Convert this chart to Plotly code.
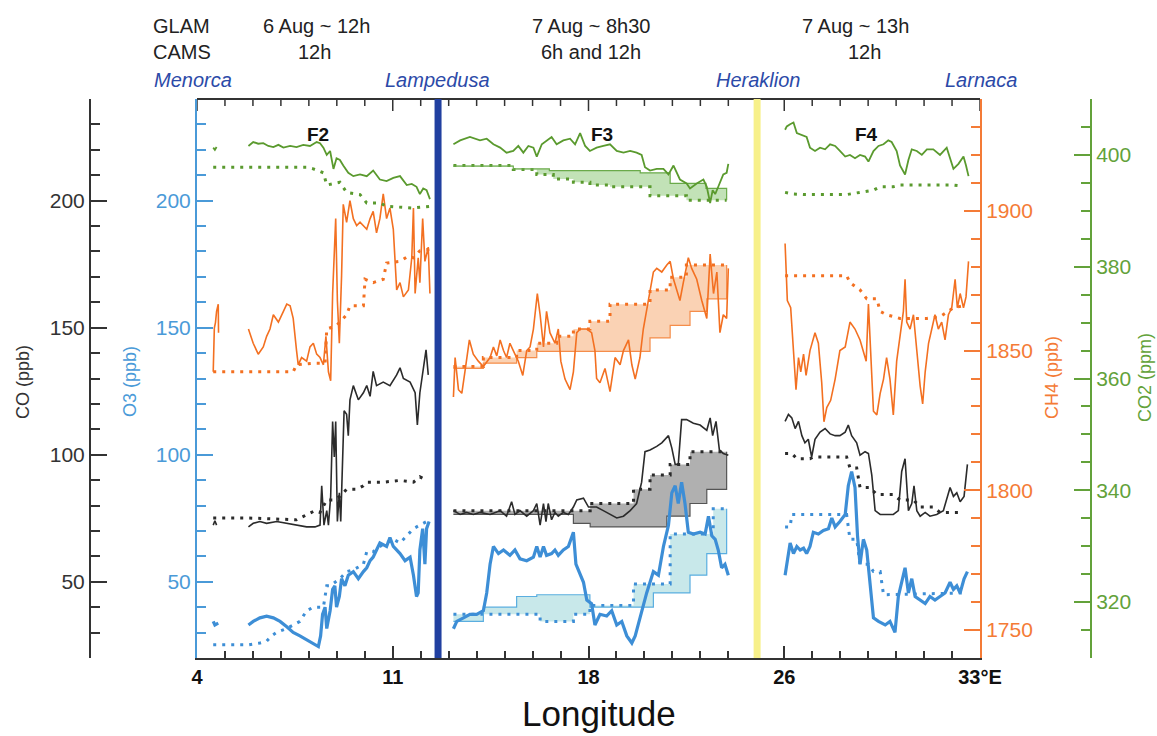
import plotly.graph_objects as go

# ---------------- canvas / layout helpers ----------------
W, H = 1157, 736
ML, MR, MT, MB = 60, 40, 99, 78
PW = W - ML - MR
PH = H - MT - MB


def pxx(px):
    return (px - ML) / PW


def pxy(py):
    return (H - MB - py) / PH


def join(*parts):
    xs, ys = [], []
    for i, (x, y) in enumerate(parts):
        if i:
            xs.append(None)
            ys.append(None)
        xs += list(x)
        ys += list(y)
    return xs, ys


# ---------------- axis / label values ----------------
x_range = [4, 32]
x_tickvals = [4, 11, 18, 25, 32]
x_ticktext = ["4", "11", "18", "26", "33°E"]
x_minor_step = 1
o3_ticks = [50, 100, 150, 200]
co_ticks = [50, 100, 150, 200]
ch4_ticks = [1750, 1800, 1850, 1900]
co2_ticks = [320, 340, 360, 380, 400]
lampedusa_lon = 12.62
heraklion_lon = 24.03
flight_names = ["F2", "F3", "F4"]
flight_label_x = [8.33, 18.48, 27.93]

# ---------------- F2 ----------------
f2_co2_x0 = [4.58, 4.64, 4.70]
f2_co2_y0 = [401.3, 400.9, 401.4]
f2_co2_x = [5.84, 6.01, 6.19, 6.37, 6.55, 6.73, 6.91, 7.09, 7.33, 7.56, 7.80, 8.04, 8.28, 8.40, 8.52, 8.64,
            8.76, 8.88, 8.99, 9.11, 9.23, 9.41, 9.59, 9.83, 10.07, 10.30, 10.54, 10.78, 11.02, 11.26, 11.50,
            11.68, 11.85, 11.97, 12.09, 12.21, 12.33]
f2_co2 = [401.6, 402.3, 402.0, 402.1, 401.6, 401.4, 401.8, 401.3, 401.6, 401.4, 401.8, 401.6, 402.3, 402.1,
          401.3, 400.0, 400.7, 397.5, 399.4, 399.1, 398.1, 396.8, 396.2, 396.5, 396.2, 397.2, 395.6, 395.3,
          395.9, 396.2, 394.6, 394.8, 394.3, 393.0, 394.0, 393.7, 392.1]
f2_co2_cams_x = [4.58, 7.92, 8.16, 8.52, 8.64, 9.11, 9.35, 9.83, 10.07, 10.54, 10.78, 11.73, 12.33]
f2_co2_cams = [397.8, 397.8, 397.5, 396.8, 394.6, 395.1, 393.3, 392.9, 391.4, 391.4, 390.8, 390.5, 390.8]

f2_ch4_x0 = [4.58, 4.62, 4.66, 4.70, 4.76, 4.77]
f2_ch4_y0 = [1842.4, 1858.0, 1860.0, 1864.0, 1866.6, 1856.4]
f2_ch4_x = [5.84, 6.01, 6.19, 6.37, 6.49, 6.61, 6.73, 6.91, 7.09, 7.21, 7.33, 7.44, 7.56, 7.62, 7.74, 7.92,
            8.04, 8.16, 8.28, 8.40, 8.52, 8.61, 8.70, 8.78, 8.85, 8.91, 8.96, 9.02, 9.09, 9.17, 9.23, 9.35,
            9.47, 9.59, 9.71, 9.83, 10.07, 10.19, 10.30, 10.42, 10.54, 10.66, 10.78, 10.90, 11.02, 11.14,
            11.26, 11.38, 11.56, 11.68, 11.74, 11.80, 11.91, 11.97, 12.07, 12.15, 12.27, 12.33]
f2_ch4 = [1857.7, 1852.6, 1848.7, 1851.3, 1855.1, 1857.7, 1862.8, 1860.2, 1864.0, 1866.6, 1866.0, 1861.5,
          1850.0, 1844.9, 1847.5, 1846.2, 1851.3, 1852.6, 1848.7, 1847.5, 1844.9, 1855.1, 1842.4, 1839.2,
          1870.4, 1884.5, 1897.2, 1867.9, 1852.6, 1876.8, 1902.3, 1895.9, 1903.6, 1897.2, 1894.7, 1895.9,
          1893.4, 1897.2, 1899.8, 1892.1, 1897.2, 1906.1, 1897.2, 1901.0, 1893.4, 1871.7, 1874.3, 1869.2,
          1871.7, 1883.2, 1901.0, 1870.4, 1883.2, 1874.3, 1897.2, 1881.9, 1887.0, 1870.4]
f2_ch4_cams_x = [4.58, 7.44, 7.56, 8.16, 8.58, 8.64, 8.99, 9.35, 9.47, 9.95, 10.01, 10.30, 10.66, 10.78,
                 11.26, 11.56, 11.74, 11.97, 12.33]
f2_ch4_cams = [1842.4, 1842.4, 1844.9, 1845.5, 1845.5, 1857.7, 1858.9, 1862.8, 1866.0, 1866.0, 1875.5,
               1874.3, 1875.5, 1881.3, 1881.9, 1883.8, 1883.2, 1885.7, 1886.3]

f2_co_x0 = [4.58, 4.64, 4.70]
f2_co_y0 = [72.3, 74.0, 72.3]
f2_co_x = [5.84, 6.01, 6.25, 6.49, 6.85, 7.21, 7.56, 7.92, 8.22, 8.40, 8.46, 8.54, 8.64, 8.70, 8.78, 8.85,
           8.91, 8.96, 9.02, 9.09, 9.14, 9.20, 9.26, 9.35, 9.41, 9.47, 9.59, 9.77, 9.95, 10.07, 10.19,
           10.30, 10.42, 10.66, 10.90, 11.14, 11.26, 11.38, 11.62, 11.80, 11.88, 11.97, 12.09, 12.19, 12.27]
f2_co = [71.6, 73.0, 73.7, 73.0, 73.7, 73.0, 72.3, 71.6, 71.6, 72.3, 87.8, 72.3, 78.0, 72.3, 83.6, 113.1,
         99.1, 113.1, 73.7, 85.0, 73.7, 99.1, 117.3, 115.9, 107.5, 121.6, 127.2, 121.6, 124.4, 127.2, 123.0,
         132.8, 127.2, 128.6, 127.2, 131.4, 134.2, 130.0, 128.6, 124.4, 111.7, 124.4, 132.8, 141.3, 131.4]
f2_co_cams_x = [4.58, 5.84, 7.56, 7.92, 8.22, 8.40, 8.64, 8.88, 9.11, 9.35, 9.71, 9.95, 10.07, 10.66, 11.26,
                11.74, 11.97, 12.21]
f2_co_cams = [75.1, 75.1, 74.4, 76.5, 78.0, 77.3, 82.2, 82.2, 83.6, 86.4, 86.4, 87.8, 89.2, 89.2, 89.9,
              89.2, 91.3, 89.9]

f2_o3_x0 = [4.58, 4.64, 4.76]
f2_o3_y0 = [34.4, 33.0, 33.7]
f2_o3_x = [5.84, 6.01, 6.25, 6.49, 6.73, 6.97, 7.21, 7.44, 7.68, 7.92, 8.16, 8.34, 8.42, 8.49, 8.58, 8.64,
           8.76, 8.85, 8.93, 8.99, 9.09, 9.17, 9.29, 9.41, 9.59, 9.77, 9.95, 10.07, 10.19, 10.30, 10.42,
           10.54, 10.78, 10.90, 11.02, 11.14, 11.26, 11.44, 11.62, 11.74, 11.85, 11.91, 11.97, 12.07, 12.15,
           12.21, 12.30]
f2_o3 = [33.0, 34.4, 35.8, 36.5, 35.8, 34.4, 32.3, 30.1, 28.7, 27.3, 25.9, 24.5, 28.7, 37.2, 40.0, 31.6,
         38.6, 47.0, 48.4, 40.0, 44.2, 51.2, 48.4, 52.6, 54.0, 51.2, 54.0, 55.5, 58.3, 59.7, 62.5, 65.3,
         63.9, 67.4, 63.9, 62.5, 61.1, 58.3, 59.7, 52.6, 44.2, 45.6, 62.5, 70.9, 56.9, 70.9, 73.7]
f2_o3_cams_x = [4.58, 5.84, 6.25, 6.49, 6.67, 6.85, 7.21, 7.44, 7.68, 7.92, 8.16, 8.52, 8.64, 8.76, 9.11,
                9.35, 9.59, 9.95, 10.07, 10.30, 10.54, 10.78, 11.02, 11.26, 11.50, 11.74, 11.97, 12.21]
f2_o3_cams = [25.2, 25.2, 25.9, 26.6, 28.7, 30.1, 31.6, 33.0, 34.4, 38.6, 40.0, 40.0, 48.4, 48.4, 51.2,
              54.0, 54.7, 56.9, 61.8, 61.8, 63.9, 65.3, 66.7, 65.3, 68.1, 70.9, 72.3, 73.7]

# ---------------- F3 ----------------
f3_co2_x = [13.17, 13.41, 13.76, 14.12, 14.36, 14.60, 14.84, 15.07, 15.31, 15.49, 15.67, 15.85, 16.03,
            16.15, 16.33, 16.50, 16.68, 16.86, 17.10, 17.34, 17.52, 17.70, 17.88, 18.05, 18.29, 18.53,
            18.77, 19.01, 19.25, 19.49, 19.72, 19.90, 20.02, 20.20, 20.44, 20.68, 20.86, 21.04, 21.16,
            21.27, 21.51, 21.63, 21.87, 22.11, 22.23, 22.35, 22.44, 22.53, 22.64, 22.82, 22.94, 23.00]
f3_co2 = [401.9, 402.6, 403.2, 402.6, 402.9, 401.9, 401.3, 400.4, 400.7, 401.6, 400.4, 401.6, 401.3,
          399.7, 401.9, 402.6, 403.2, 401.9, 402.6, 402.9, 401.9, 403.9, 401.6, 400.7, 401.3, 401.6,
          401.9, 400.7, 400.4, 400.7, 400.4, 400.0, 397.8, 397.2, 397.5, 397.5, 396.5, 398.1, 396.8,
          395.6, 394.9, 394.0, 394.9, 395.6, 394.3, 391.4, 393.7, 393.0, 394.3, 396.5, 396.8, 398.4]
f3_co2_6h_x = [13.17, 15.31, 16.15, 16.74, 17.46, 18.05, 18.77, 20.20, 21.50, 22.94]
f3_co2_6h = [398.1, 397.4, 396.5, 395.7, 395.1, 394.6, 394.3, 392.7, 391.9, 391.9]
f3_co2_12h_x = [13.17, 15.31, 16.60, 19.85, 20.92, 22.20, 22.94, 22.94]
f3_co2_12h = [398.0, 397.5, 397.2, 396.8, 394.9, 394.0, 394.0, 391.9]

f3_ch4_x = [13.17, 13.23, 13.35, 13.47, 13.58, 13.74, 13.88, 14.06, 14.24, 14.48, 14.60, 14.72, 14.84,
            14.96, 15.07, 15.19, 15.31, 15.49, 15.65, 15.79, 15.91, 16.03, 16.17, 16.27, 16.39, 16.50,
            16.62, 16.80, 16.92, 17.01, 17.16, 17.34, 17.46, 17.58, 17.70, 17.94, 18.11, 18.23, 18.29,
            18.41, 18.59, 18.77, 18.95, 19.13, 19.25, 19.43, 19.55, 19.67, 19.84, 19.96, 20.14, 20.32,
            20.44, 20.62, 20.80, 20.92, 21.04, 21.27, 21.39, 21.57, 21.69, 21.87, 22.05, 22.23, 22.35,
            22.47, 22.59, 22.70, 22.82, 22.94, 23.00]
f3_ch4 = [1833.4, 1847.5, 1836.0, 1834.7, 1842.4, 1853.8, 1848.7, 1846.2, 1844.3, 1847.5, 1851.3, 1848.1,
          1853.8, 1850.0, 1847.5, 1852.6, 1850.0, 1846.2, 1841.1, 1850.0, 1851.3, 1857.7, 1870.4, 1862.8,
          1851.3, 1864.0, 1856.4, 1852.6, 1857.7, 1846.2, 1839.8, 1836.0, 1842.4, 1856.4, 1857.7, 1857.7,
          1856.4, 1850.0, 1840.0, 1838.5, 1843.6, 1835.3, 1847.5, 1844.9, 1850.0, 1853.8, 1844.9, 1839.8,
          1847.5, 1857.7, 1867.9, 1878.1, 1879.4, 1878.1, 1880.6, 1881.9, 1875.5, 1867.9, 1874.3, 1883.2,
          1879.4, 1875.5, 1867.9, 1861.5, 1884.5, 1870.4, 1878.1, 1856.4, 1862.8, 1861.5, 1879.4]
f3_ch4_6h_x = [13.17, 14.24, 15.43, 16.15, 16.86, 17.46, 18.05, 18.77, 20.20, 20.92, 21.50, 22.94]
f3_ch4_6h = [1844.3, 1847.5, 1850.0, 1852.6, 1855.1, 1857.7, 1860.5, 1866.6, 1871.7, 1876.2, 1880.6, 1880.6]
f3_ch4_12h_x = [13.17, 14.24, 15.43, 16.15, 20.20, 20.92, 21.63, 22.23, 22.94, 22.94]
f3_ch4_12h = [1843.6, 1845.5, 1847.5, 1849.7, 1854.5, 1859.0, 1864.0, 1868.5, 1868.5, 1880.6]

f3_co_x = [13.17, 13.41, 13.64, 13.88, 14.12, 14.48, 14.84, 15.07, 15.25, 15.37, 15.55, 15.79, 16.03,
           16.15, 16.27, 16.39, 16.48, 16.56, 16.68, 16.80, 16.92, 17.10, 17.28, 17.46, 17.58, 17.82,
           18.00, 18.29, 18.53, 18.77, 19.01, 19.25, 19.49, 19.72, 19.90, 20.02, 20.20, 20.44, 20.62,
           20.86, 20.98, 21.10, 21.21, 21.33, 21.51, 21.75, 21.99, 22.23, 22.35, 22.44, 22.56, 22.68,
           22.82, 23.00]
f3_co = [78.0, 76.5, 77.3, 76.5, 77.3, 76.5, 78.0, 75.8, 81.5, 76.5, 78.0, 75.8, 78.0, 80.8, 72.3, 80.8,
         73.7, 80.8, 74.4, 77.3, 75.8, 77.3, 76.5, 79.4, 82.2, 82.9, 79.4, 79.4, 78.0, 76.5, 75.1, 75.8,
         78.0, 80.8, 89.2, 101.2, 101.9, 103.3, 104.7, 107.5, 102.6, 96.2, 96.2, 113.8, 113.8, 112.4, 111.7,
         109.6, 114.5, 107.5, 113.1, 101.9, 100.5, 99.8]
f3_co_6h_x = [13.17, 18.06, 19.61, 20.20, 20.92, 21.63, 22.94]
f3_co_6h = [78.0, 80.8, 86.4, 92.0, 96.2, 101.2, 101.2]
f3_co_12h_x = [13.17, 17.46, 18.06, 20.80, 21.63, 22.23, 22.94, 22.94]
f3_co_12h = [76.5, 73.0, 71.6, 75.8, 80.8, 86.4, 86.4, 101.2]

f3_o3_x = [13.17, 13.29, 13.53, 13.76, 14.00, 14.24, 14.36, 14.48, 14.60, 14.78, 14.96, 15.19, 15.37,
           15.55, 15.79, 16.03, 16.15, 16.27, 16.39, 16.50, 16.68, 16.80, 16.92, 17.10, 17.28, 17.46,
           17.55, 17.70, 17.82, 17.94, 18.11, 18.23, 18.41, 18.65, 18.83, 19.01, 19.19, 19.37, 19.55,
           19.67, 19.84, 20.08, 20.32, 20.50, 20.68, 20.86, 20.98, 21.10, 21.21, 21.33, 21.45, 21.57,
           21.75, 21.99, 22.17, 22.29, 22.41, 22.53, 22.64, 22.76, 22.88, 23.00]
f3_o3 = [31.5, 34.4, 35.8, 37.2, 37.2, 38.6, 45.6, 56.9, 63.9, 61.1, 62.5, 60.4, 62.5, 59.0, 58.3, 59.7,
         63.9, 59.7, 63.9, 60.4, 61.1, 62.5, 60.4, 62.5, 63.9, 69.5, 56.9, 52.6, 49.8, 42.8, 41.4, 33.0,
         37.2, 36.5, 38.6, 33.0, 34.4, 28.7, 25.9, 28.7, 35.8, 45.6, 54.0, 52.6, 63.9, 72.3, 85.0, 87.8,
         80.8, 89.2, 80.8, 69.5, 68.8, 69.5, 68.8, 75.8, 68.1, 66.7, 62.5, 55.5, 56.9, 52.6]
f3_o3_6h_x = [13.17, 16.27, 17.46, 18.05, 19.61, 20.92, 22.46, 22.94]
f3_o3_6h = [37.2, 34.4, 37.2, 40.7, 49.1, 68.8, 78.7, 78.7]
f3_o3_12h_x = [13.17, 14.24, 15.43, 16.15, 18.05, 20.32, 21.63, 22.23, 22.94, 22.94]
f3_o3_12h = [34.4, 40.0, 44.2, 44.9, 40.0, 45.6, 52.6, 61.1, 61.1, 78.7]

# ---------------- F4 ----------------
f4_co2_x = [25.03, 25.09, 25.21, 25.33, 25.45, 25.63, 25.80, 25.92, 26.10, 26.28, 26.46, 26.64, 26.82,
            26.99, 27.18, 27.35, 27.53, 27.71, 27.89, 28.01, 28.19, 28.37, 28.55, 28.72, 28.84, 29.02,
            29.14, 29.32, 29.44, 29.56, 29.74, 29.92, 30.10, 30.33, 30.57, 30.81, 30.93, 31.05, 31.23,
            31.41, 31.50, 31.59]
f4_co2 = [404.5, 405.1, 405.5, 405.8, 403.9, 403.5, 403.2, 401.3, 400.7, 401.3, 401.0, 401.9, 401.6,
          400.7, 399.7, 400.0, 399.4, 400.0, 399.7, 398.8, 400.7, 401.6, 401.9, 402.6, 402.3, 400.7,
          398.1, 396.5, 399.1, 401.0, 400.7, 400.0, 401.0, 401.0, 400.0, 401.3, 399.4, 397.5, 398.4,
          399.7, 398.1, 396.2]
f4_co2_cams_x = [25.03, 25.33, 25.69, 27.23, 27.71, 28.19, 28.43, 28.90, 29.14, 31.05, 31.41]
f4_co2_cams = [393.3, 393.0, 392.9, 392.9, 393.3, 393.7, 394.3, 394.3, 394.6, 394.6, 394.4]

f4_ch4_x = [25.03, 25.11, 25.23, 25.33, 25.42, 25.51, 25.59, 25.69, 25.78, 25.92, 26.10, 26.22, 26.34,
            26.42, 26.52, 26.66, 26.82, 26.99, 27.18, 27.35, 27.53, 27.71, 27.83, 27.93, 28.01, 28.09,
            28.19, 28.31, 28.43, 28.55, 28.66, 28.78, 28.90, 29.02, 29.14, 29.26, 29.32, 29.38, 29.50,
            29.62, 29.74, 29.86, 29.95, 30.04, 30.16, 30.27, 30.39, 30.51, 30.63, 30.75, 30.87, 30.99,
            31.11, 31.19, 31.29, 31.41, 31.50, 31.59]
f4_ch4 = [1888.3, 1867.9, 1865.3, 1850.0, 1836.0, 1847.5, 1842.4, 1848.7, 1841.1, 1850.0, 1856.4, 1852.6,
          1838.5, 1824.5, 1829.6, 1832.2, 1839.8, 1850.0, 1851.3, 1860.2, 1857.7, 1853.8, 1850.0, 1846.2,
          1866.6, 1850.0, 1828.3, 1827.0, 1834.7, 1839.8, 1847.5, 1839.8, 1827.0, 1846.2, 1855.1, 1864.0,
          1875.5, 1860.2, 1857.7, 1862.8, 1850.0, 1837.3, 1830.9, 1842.4, 1852.6, 1857.7, 1862.8, 1857.7,
          1860.2, 1853.8, 1862.8, 1865.3, 1875.5, 1865.3, 1870.4, 1865.3, 1869.2, 1881.9]
f4_ch4_cams_x = [25.03, 27.23, 27.35, 27.71, 27.95, 28.31, 28.43, 28.66, 29.14, 30.10, 30.57, 31.05, 31.41]
f4_ch4_cams = [1876.8, 1876.8, 1874.3, 1871.7, 1868.5, 1868.5, 1864.0, 1862.8, 1861.5, 1861.5, 1862.1,
               1865.3, 1866.0]

f4_co_x = [25.03, 25.15, 25.27, 25.39, 25.51, 25.63, 25.74, 25.86, 25.98, 26.10, 26.28, 26.46, 26.64,
           26.82, 26.99, 27.18, 27.29, 27.41, 27.59, 27.71, 27.89, 28.01, 28.13, 28.25, 28.43, 28.66,
           28.90, 29.08, 29.20, 29.32, 29.44, 29.56, 29.64, 29.74, 29.86, 30.04, 30.21, 30.45, 30.69,
           30.93, 31.05, 31.17, 31.29, 31.43, 31.55]
f4_co = [113.1, 115.9, 114.5, 110.3, 113.1, 107.5, 104.7, 106.1, 99.1, 106.1, 108.9, 110.3, 108.2, 107.5,
         107.5, 108.9, 111.7, 107.5, 104.7, 99.8, 101.2, 100.5, 92.0, 78.0, 76.5, 76.5, 76.5, 78.0, 93.4,
         98.4, 78.0, 80.8, 87.8, 78.0, 75.8, 77.3, 75.8, 76.5, 78.0, 87.1, 83.6, 85.0, 81.5, 83.6, 96.2]
f4_co_cams_x = [25.03, 25.27, 25.45, 25.92, 26.04, 27.23, 27.35, 27.59, 27.71, 28.07, 28.31, 28.90, 29.14,
                29.62, 29.86, 30.33, 30.57, 31.41]
f4_co_cams = [100.5, 100.5, 98.4, 98.4, 99.1, 99.1, 94.8, 94.8, 87.1, 87.1, 84.3, 84.3, 82.2, 82.2, 79.4,
              79.4, 77.3, 77.3]

f4_o3_x = [25.03, 25.11, 25.21, 25.33, 25.45, 25.57, 25.69, 25.80, 25.92, 26.04, 26.22, 26.40, 26.58,
           26.70, 26.82, 26.99, 27.18, 27.29, 27.41, 27.53, 27.62, 27.71, 27.83, 27.95, 28.07, 28.19,
           28.37, 28.61, 28.78, 28.96, 29.08, 29.20, 29.32, 29.44, 29.56, 29.68, 29.86, 30.04, 30.21,
           30.39, 30.57, 30.75, 30.93, 31.05, 31.17, 31.29, 31.43, 31.55]
f4_o3 = [52.6, 58.3, 65.3, 61.1, 63.9, 62.5, 63.2, 61.1, 63.9, 69.5, 68.8, 70.2, 70.9, 75.1, 71.6, 73.7,
         76.5, 87.8, 93.4, 87.1, 68.1, 56.9, 66.7, 62.5, 48.4, 35.8, 34.4, 33.0, 34.4, 30.1, 44.2, 49.8,
         55.5, 45.6, 51.2, 44.2, 42.8, 41.4, 44.2, 42.8, 44.2, 45.6, 49.8, 47.0, 48.4, 45.6, 51.2, 54.0]
f4_o3_cams_x = [25.03, 25.21, 25.27, 27.23, 27.35, 27.59, 27.71, 28.01, 28.19, 28.43, 28.55, 31.41]
f4_o3_cams = [71.6, 71.6, 76.5, 76.5, 66.7, 66.7, 56.9, 56.9, 54.0, 54.0, 44.9, 45.6]

# ---------------- styles ----------------
C_CO2, C_CH4, C_CO, C_O3 = "#5a9a2e", "#f37021", "#2b2b2b", "#3d8ed6"
AX_CO2, AX_CH4, AX_CO, AX_O3 = "#63a23a", "#f47b36", "#333333", "#4a9ad8"
FILL = {"co2": "rgba(120,190,95,0.45)", "ch4": "rgba(246,180,130,0.6)",
        "co": "rgba(150,150,150,0.75)", "o3": "rgba(170,220,222,0.65)"}
EDGE = {"co2": "#6aaa4a", "ch4": "#f58d4a", "co": "#555555", "o3": "#5aaee0"}
FONT = "Liberation Sans, Arial, sans-serif"
DOT = "3px,6px"
FRAME = "#333333"

fig = go.Figure()


def obs(xs, ys, color, axis, width=1.6):
    fig.add_trace(go.Scatter(x=xs, y=ys, mode="lines", yaxis=axis, showlegend=False, hoverinfo="skip",
                             line=dict(color=color, width=width)))


def cams(xs, ys, color, axis, shape="linear"):
    fig.add_trace(go.Scatter(x=xs, y=ys, mode="lines", yaxis=axis, showlegend=False, hoverinfo="skip",
                             line=dict(color=color, width=3, dash=DOT, shape=shape)))


def band(xa, ya, xb, yb, key, color, axis):
    cams(xa, ya, color, axis, shape="hv")
    fig.add_trace(go.Scatter(x=xb, y=yb, mode="lines", yaxis=axis, showlegend=False, hoverinfo="skip",
                             fill="tonexty", fillcolor=FILL[key],
                             line=dict(color=EDGE[key], width=1.2, shape="hv")))


# dummy trace so the CO display axis exists
fig.add_trace(go.Scatter(x=[None], y=[None], yaxis="y2", showlegend=False, hoverinfo="skip"))

# F3 bands (6h / 12h CAMS)
band(f3_co_6h_x, f3_co_6h, f3_co_12h_x, f3_co_12h, "co", C_CO, "y")
band(f3_o3_6h_x, f3_o3_6h, f3_o3_12h_x, f3_o3_12h, "o3", C_O3, "y")
band(f3_ch4_6h_x, f3_ch4_6h, f3_ch4_12h_x, f3_ch4_12h, "ch4", C_CH4, "y3")
band(f3_co2_6h_x, f3_co2_6h, f3_co2_12h_x, f3_co2_12h, "co2", C_CO2, "y4")

# CAMS F2/F4
cams(*join((f2_co_cams_x, f2_co_cams), (f4_co_cams_x, f4_co_cams)), C_CO, "y")
cams(*join((f2_o3_cams_x, f2_o3_cams), (f4_o3_cams_x, f4_o3_cams)), C_O3, "y")
cams(*join((f2_ch4_cams_x, f2_ch4_cams), (f4_ch4_cams_x, f4_ch4_cams)), C_CH4, "y3")
cams(*join((f2_co2_cams_x, f2_co2_cams), (f4_co2_cams_x, f4_co2_cams)), C_CO2, "y4")

# GLAM observations
obs(*join((f2_co_x0, f2_co_y0), (f2_co_x, f2_co), (f3_co_x, f3_co), (f4_co_x, f4_co)), C_CO, "y")
obs(*join((f2_o3_x0, f2_o3_y0), (f2_o3_x, f2_o3), (f3_o3_x, f3_o3), (f4_o3_x, f4_o3)), C_O3, "y", 3.2)
obs(*join((f2_ch4_x0, f2_ch4_y0), (f2_ch4_x, f2_ch4), (f3_ch4_x, f3_ch4), (f4_ch4_x, f4_ch4)), C_CH4, "y3")
obs(*join((f2_co2_x0, f2_co2_y0), (f2_co2_x, f2_co2), (f3_co2_x, f3_co2), (f4_co2_x, f4_co2)), C_CO2, "y4", 1.8)


def yax(color, rng, tickvals, minor_dt, **kw):
    d = dict(range=rng, tickmode="array", tickvals=tickvals, ticks="inside", ticklen=16, tickwidth=2,
             tickcolor=color, showline=True, linecolor=color, linewidth=2, showgrid=False, zeroline=False,
             tickfont=dict(family=FONT, size=21, color=color),
             minor=dict(tickmode="linear", tick0=0, dtick=minor_dt, ticks="inside", ticklen=9,
                        tickwidth=2, tickcolor=color, showgrid=False))
    d.update(kw)
    return d


x0d, x1d = pxx(197), pxx(980)
fig.update_layout(
    width=W, height=H, margin=dict(l=ML, r=MR, t=MT, b=MB),
    plot_bgcolor="white", paper_bgcolor="white", showlegend=False,
    font=dict(family=FONT, color="#222"),
    xaxis=dict(range=x_range, domain=[x0d, x1d], anchor="y", tickmode="array", tickvals=x_tickvals,
               ticktext=x_ticktext, ticks="inside", ticklen=12, tickwidth=1.5, tickcolor=FRAME,
               showline=True, linecolor=FRAME, linewidth=2, showgrid=False, zeroline=False,
               tickfont=dict(family=FONT, size=20, color="#111", weight="bold"),
               minor=dict(tickmode="linear", tick0=4, dtick=x_minor_step, ticks="inside", ticklen=7,
                          tickwidth=1.5, tickcolor=FRAME, showgrid=False)),
    yaxis=yax(AX_O3, [20, 240], o3_ticks, 10, side="left", anchor="x"),
    yaxis2=yax(AX_CO, [20, 240], co_ticks, 10, side="left", overlaying="y", anchor="free",
               position=pxx(90)),
    yaxis3=yax(AX_CH4, [1740, 1940], ch4_ticks, 10, side="right", overlaying="y", anchor="x"),
    yaxis4=yax(AX_CO2, [310, 410], co2_ticks, 5, side="right", overlaying="y", anchor="free",
               position=pxx(1091)),
)

# top frame line with its tick marks (mirror of the longitude axis)
fig.add_shape(type="line", xref="paper", yref="paper", x0=x0d, x1=x1d, y0=1, y1=1,
              line=dict(color=FRAME, width=2))
v = x_range[0]
while v <= x_range[1]:
    tl = 12 if v in x_tickvals else 7
    fig.add_shape(type="line", xref="x", yref="paper", x0=v, x1=v, y0=1, y1=1 - tl / PH,
                  line=dict(color=FRAME, width=1.5))
    v += x_minor_step

# vertical station lines
fig.add_shape(type="line", xref="x", yref="paper", x0=lampedusa_lon, x1=lampedusa_lon, y0=0, y1=1,
              line=dict(color="#2140a0", width=7))
fig.add_shape(type="line", xref="x", yref="paper", x0=heraklion_lon, x1=heraklion_lon, y0=0, y1=1,
              line=dict(color="#f7f08a", width=7))

ann = []


def txt(text, px, py, size=20, color="#222", xanchor="center", **kw):
    ann.append(dict(text=text, x=pxx(px), y=pxy(py), xref="paper", yref="paper", showarrow=False,
                    xanchor=xanchor, yanchor="middle", font=dict(family=FONT, size=size, color=color), **kw))


txt("GLAM", 151, 26, xanchor="left")
txt("CAMS", 151, 52, xanchor="left")
txt("6 Aug ~ 12h", 316, 26)
txt("12h", 314, 52)
txt("7 Aug ~ 8h30", 591, 26)
txt("6h and 12h", 591, 52)
txt("7 Aug ~ 13h", 855, 26)
txt("12h", 864, 52)
for name, px in [("Menorca", 193), ("Lampedusa", 437), ("Heraklion", 758), ("Larnaca", 981)]:
    txt("<i>" + name + "</i>", px, 80, size=20, color="#2c4aa8")

for name, xv in zip(flight_names, flight_label_x):
    ann.append(dict(text="<b>" + name + "</b>", x=xv, y=pxy(122), xref="x", yref="paper", showarrow=False,
                    font=dict(family=FONT, size=19, color="#111")))

txt("CO (ppb)", 23, 382, size=18, color=AX_CO, textangle=-90)
txt("O3 (ppb)", 130, 382, size=18, color=AX_O3, textangle=-90)
txt("CH4 (ppb)", 1052, 378, size=18, color=AX_CH4, textangle=-90)
txt("CO2 (ppm)", 1145, 378, size=18, color=AX_CO2, textangle=-90)
txt("Longitude", 599, 713, size=35, color="#111")

fig.update_layout(annotations=ann)
fig.write_html("out.html")
